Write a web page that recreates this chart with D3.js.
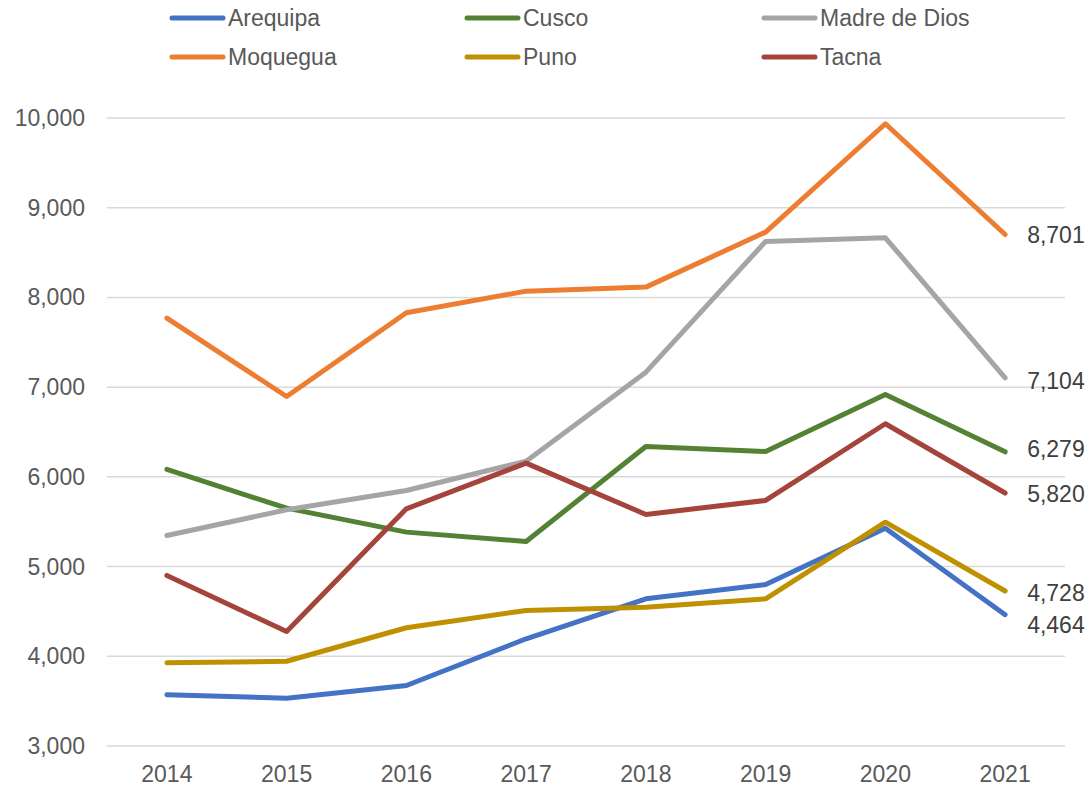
<!DOCTYPE html>
<html>
<head>
<meta charset="utf-8">
<script src="https://cdn.jsdelivr.net/npm/d3@7"></script>
<style>
  body { margin: 0; background: #fff; }
  text { font-family: "Liberation Sans", Arial, sans-serif; }
</style>
</head>
<body>
<div id="chart"></div>
<script>
// years on the x axis
const years = [2014, 2015, 2016, 2017, 2018, 2019, 2020, 2021];

// one array per region
const arequipa    = [3571, 3533, 3674, 4195, 4641, 4800, 5428, 4464];
const cusco       = [6083, 5651, 5384, 5280, 6339, 6283, 6919, 6279];
const madreDeDios = [5347, 5633, 5848, 6175, 7167, 8624, 8665, 7104];
const moquegua    = [7769, 6896, 7829, 8070, 8115, 8728, 9936, 8701];
const puno        = [3927, 3945, 4318, 4511, 4547, 4641, 5495, 4728];
const tacna       = [4901, 4276, 5644, 6153, 5581, 5737, 6592, 5820];

const yTicks = [3000, 4000, 5000, 6000, 7000, 8000, 9000, 10000];

const series = [
  { name: "Arequipa",      values: arequipa,    color: "#4472C4", labelDy: 10 },
  { name: "Cusco",         values: cusco,       color: "#548235", labelDy: -3 },
  { name: "Madre de Dios", values: madreDeDios, color: "#A5A5A5", labelDy: 3 },
  { name: "Moquegua",      values: moquegua,    color: "#ED7D31", labelDy: 0 },
  { name: "Puno",          values: puno,        color: "#BF9000", labelDy: 2 },
  { name: "Tacna",         values: tacna,       color: "#A5443A", labelDy: 1 }
];

const width = 1092, height = 787;
const margin = { top: 118, right: 27, bottom: 41, left: 107 };

const svg = d3.select("#chart").append("svg")
  .attr("width", width)
  .attr("height", height);

const x = d3.scalePoint()
  .domain(years)
  .range([margin.left, width - margin.right])
  .padding(0.5);

const y = d3.scaleLinear()
  .domain([3000, 10000])
  .range([height - margin.bottom, margin.top]);

// gridlines
svg.append("g")
  .selectAll("line")
  .data(yTicks)
  .join("line")
  .attr("x1", margin.left)
  .attr("x2", width - margin.right)
  .attr("y1", d => y(d))
  .attr("y2", d => y(d))
  .attr("stroke", "#d9d9d9")
  .attr("stroke-width", 1.5);

// y axis labels
const fmt = d3.format(",");
svg.append("g")
  .selectAll("text")
  .data(yTicks)
  .join("text")
  .attr("x", 85)
  .attr("y", d => y(d))
  .attr("dy", "0.35em")
  .attr("text-anchor", "end")
  .attr("font-size", 23)
  .attr("fill", "#595959")
  .text(d => fmt(d));

// x axis labels
svg.append("g")
  .selectAll("text")
  .data(years)
  .join("text")
  .attr("x", d => x(d))
  .attr("y", height - margin.bottom + 28)
  .attr("dy", "0.35em")
  .attr("text-anchor", "middle")
  .attr("font-size", 23)
  .attr("fill", "#595959")
  .text(d => d);

// lines
const line = d3.line()
  .x((d, i) => x(years[i]))
  .y(d => y(d));

svg.append("g")
  .selectAll("path")
  .data(series)
  .join("path")
  .attr("d", d => line(d.values))
  .attr("fill", "none")
  .attr("stroke", d => d.color)
  .attr("stroke-width", 5)
  .attr("stroke-linejoin", "round")
  .attr("stroke-linecap", "round");

// end labels
const last = years.length - 1;
svg.append("g")
  .selectAll("text")
  .data(series)
  .join("text")
  .attr("x", x(years[last]) + 22)
  .attr("y", d => y(d.values[last]) + d.labelDy)
  .attr("dy", "0.35em")
  .attr("font-size", 23)
  .attr("fill", "#404040")
  .text(d => fmt(d.values[last]));

// legend
const legendX = [170, 465, 762];
const legendY = [18, 57];
const legend = svg.append("g")
  .selectAll("g")
  .data(series)
  .join("g")
  .attr("transform", (d, i) => `translate(${legendX[i % 3]},${legendY[Math.floor(i / 3)]})`);

legend.append("line")
  .attr("x1", 2)
  .attr("x2", 53)
  .attr("stroke", d => d.color)
  .attr("stroke-width", 5)
  .attr("stroke-linecap", "round");

legend.append("text")
  .attr("x", 58)
  .attr("dy", "0.35em")
  .attr("font-size", 23)
  .attr("fill", "#595959")
  .text(d => d.name);
</script>
</body>
</html>
